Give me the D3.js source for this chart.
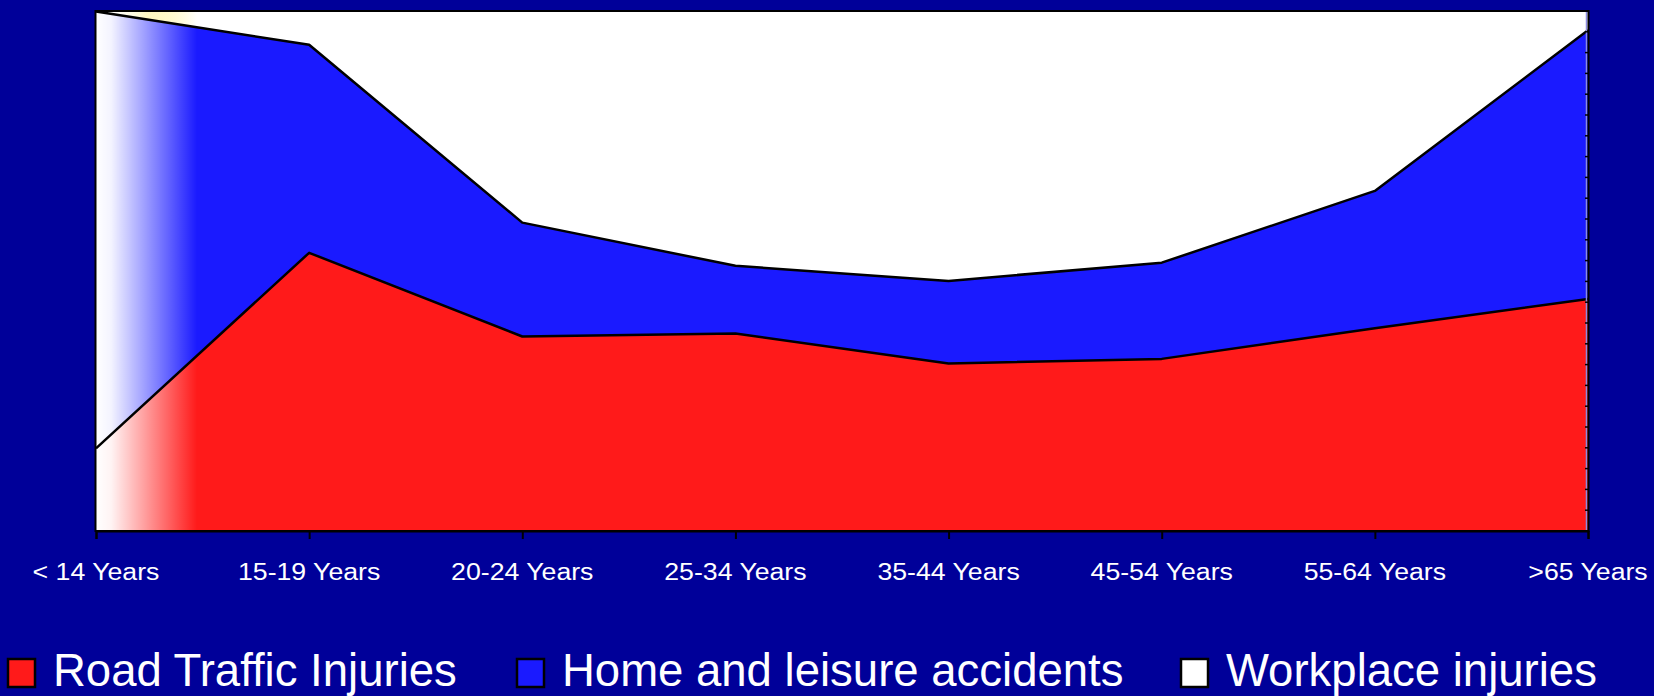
<!DOCTYPE html>
<html>
<head>
<meta charset="utf-8">
<script src="https://cdn.jsdelivr.net/npm/d3@7"></script>
<style>
  html, body { margin: 0; padding: 0; background: #000099; overflow: hidden; }
  svg { display: block; }
  text { font-family: "Liberation Sans", Arial, sans-serif; fill: #ffffff; }
</style>
</head>
<body>
<svg id="chart" width="1654" height="696"></svg>
<script>
// ---- data (percent share of injuries by age group) ----
const categories = ["< 14 Years", "15-19 Years", "20-24 Years", "25-34 Years", "35-44 Years", "45-54 Years", "55-64 Years", ">65 Years"];
const roadTraffic = [15.9, 53.5, 37.4, 38.0, 32.2, 33.1, 39.0, 44.6];
const homeLeisure = [84.0, 40.0, 21.9, 13.0, 15.9, 18.5, 26.4, 51.7];
const workplace   = [0.1, 6.5, 40.7, 49.0, 51.9, 48.4, 34.6, 3.7];
const seriesNames = ["Road Traffic Injuries", "Home and leisure accidents", "Workplace injuries"];
const yTicks = d3.range(0, 101, 4);

const colors = ["#ff1a1a", "#1a1aff", "#ffffff"];
const keys = ["road", "home", "work"];

const table = categories.map((c, i) => ({ cat: c, road: roadTraffic[i], home: homeLeisure[i], work: workplace[i] }));

const svg = d3.select("#chart");
const L = 96, R = 1588, T = 11, B = 531;

const x = d3.scalePoint().domain(categories).range([L, R]);
const y = d3.scaleLinear().domain([0, 100]).range([B, T]);

const defs = svg.append("defs");
const fade = defs.append("linearGradient").attr("id", "fade")
  .attr("gradientUnits", "userSpaceOnUse").attr("x1", L).attr("x2", L + 101).attr("y1", 0).attr("y2", 0);
fade.append("stop").attr("offset", 0).attr("stop-color", "#fff").attr("stop-opacity", 1);
fade.append("stop").attr("offset", 0.15).attr("stop-color", "#fff").attr("stop-opacity", 0.95);
fade.append("stop").attr("offset", 1).attr("stop-color", "#fff").attr("stop-opacity", 0);

const wg = defs.append("linearGradient").attr("id", "workfill")
  .attr("gradientUnits", "userSpaceOnUse").attr("x1", L).attr("x2", L + 101).attr("y1", 0).attr("y2", 0);
wg.append("stop").attr("offset", 0).attr("stop-color", "#ffffff");
wg.append("stop").attr("offset", 0.5).attr("stop-color", "#fff27a");
wg.append("stop").attr("offset", 1).attr("stop-color", "#ffffff");

const stack = d3.stack().keys(keys);
const layers = stack(table);

const area = d3.area()
  .x(d => x(d.data.cat))
  .y0(d => y(d[0]))
  .y1(d => y(d[1]));

svg.append("g").selectAll("path").data(layers).join("path")
  .attr("d", area)
  .attr("fill", (d, i) => i === 2 ? "url(#workfill)" : colors[i]);

// left fade overlay
svg.append("rect").attr("x", L).attr("y", T).attr("width", 101).attr("height", B - T)
  .attr("fill", "url(#fade)");

// boundary lines between series
const line = d3.line().x(d => x(d.data.cat)).y(d => y(d[1]));
svg.append("g").selectAll("path").data(layers.slice(0, 2)).join("path")
  .attr("d", line)
  .attr("fill", "none").attr("stroke", "#000").attr("stroke-width", 2.5)
  .attr("stroke-linejoin", "round");

// right value axis (no labels)
const rightAxis = svg.append("g");
rightAxis.append("line").attr("x1", R - 1.5).attr("x2", R - 1.5).attr("y1", T).attr("y2", B)
  .attr("stroke", "#8c8ce0").attr("stroke-width", 1.5);
rightAxis.selectAll("line.tk").data(yTicks).join("line").attr("class", "tk")
  .attr("x1", R - 3).attr("x2", R).attr("y1", d => y(d)).attr("y2", d => y(d))
  .attr("stroke", "#000").attr("stroke-width", 1.5);

// plot frame
svg.append("rect").attr("x", L - 0.5).attr("y", T).attr("width", R - L + 1).attr("height", B - T)
  .attr("fill", "none").attr("stroke", "#000").attr("stroke-width", 2);

// bottom category axis
const xAxis = d3.axisBottom(x).tickSize(8).tickPadding(0).tickFormat("");
const gx = svg.append("g").attr("transform", `translate(0,${B})`).call(xAxis);
gx.select(".domain").attr("stroke", "#000").attr("stroke-width", 2);
gx.selectAll(".tick line").attr("stroke", "#000").attr("stroke-width", 2);

svg.append("g").selectAll("text").data(categories).join("text")
  .attr("transform", d => `translate(${x(d)},580) scale(1.16,1)`)
  .attr("text-anchor", "middle")
  .style("font-size", "23px")
  .text(d => d);

// legend
const legendX = [7, 516, 1180];
const lg = svg.append("g");
seriesNames.forEach((name, i) => {
  lg.append("rect").attr("x", legendX[i] + 1).attr("y", 659).attr("width", 27).attr("height", 28)
    .attr("fill", colors[i]).attr("stroke", "#000").attr("stroke-width", 2.5);
  lg.append("text").attr("x", legendX[i] + 46).attr("y", 686)
    .style("font-size", "45.5px").text(name);
});
</script>
</body>
</html>
